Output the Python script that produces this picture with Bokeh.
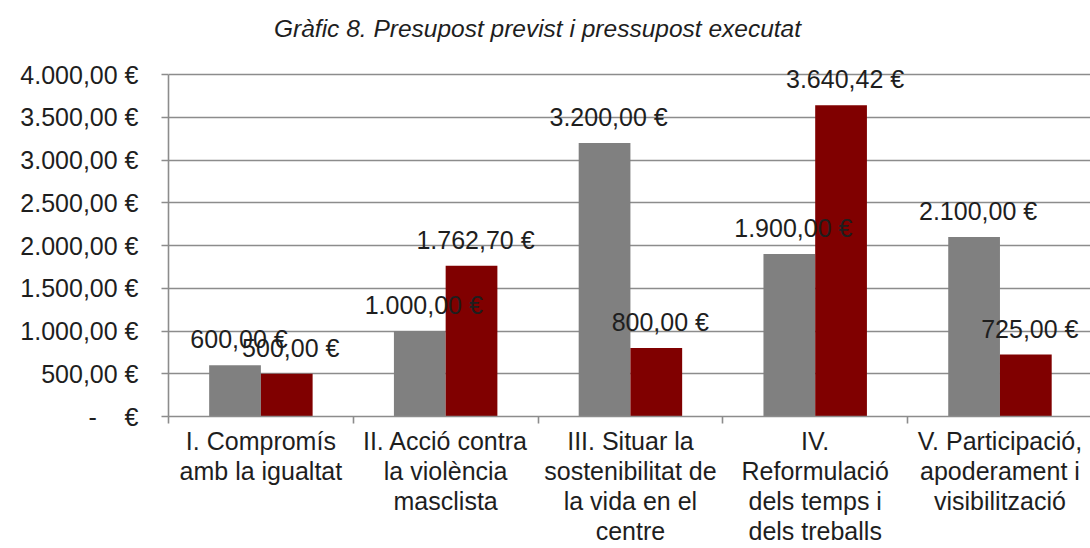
import numpy as np
from bokeh.plotting import figure
from bokeh.models import Range1d, FixedTicker, ColumnDataSource
from bokeh.core.properties import value
from bokeh.embed import file_html
from bokeh.resources import INLINE

categories = [
    "I. Compromís\namb la igualtat",
    "II. Acció contra\nla violència\nmasclista",
    "III. Situar la\nsostenibilitat de\nla vida en el\ncentre",
    "IV.\nReformulació\ndels temps i\ndels treballs",
    "V. Participació,\napoderament i\nvisibilització",
]
previst = [600.00, 1000.00, 3200.00, 1900.00, 2100.00]
executat = [500.00, 1762.70, 800.00, 3640.42, 725.00]
y_ticks = [0, 500, 1000, 1500, 2000, 2500, 3000, 3500, 4000]
title_text = "Gràfic 8. Presupost previst i pressupost executat"


def eur(v):
    s = f"{v:,.2f}".replace(",", "X").replace(".", ",").replace("X", ".")
    return s + " €"


def eur_tick(v):
    if v == 0:
        return "-\u00a0\u00a0\u00a0\u00a0€"
    return eur(v)


FONT = "Liberation Sans"
TXT = "#1e1e1e"
GRID = "#8c8c8c"
FS = "25px"

n = len(categories)
centers = np.arange(n) + 0.5
bw = 0.28

# frame spans the full height above the axis; the value axis stops at 4000
W, H = 1090, 548
top_pad, bottom_pad = 0, 132
axis_top_px = 74                          # where 4000 sits from the top
frame_h = H - top_pad - bottom_pad
ymax = y_ticks[-1] * frame_h / (frame_h - axis_top_px)

p = figure(width=W, height=H, output_backend="svg", toolbar_location=None,
           x_range=Range1d(0, 4.99), y_range=Range1d(0, ymax),
           min_border_left=168, min_border_right=0, min_border_top=top_pad,
           min_border_bottom=bottom_pad)
p.outline_line_color = None
p.background_fill_color = "white"
p.border_fill_color = "white"

src_a = ColumnDataSource(dict(x=centers - bw / 2, top=previst,
                              lab=[eur(v) for v in previst]))
src_b = ColumnDataSource(dict(x=centers + bw / 2, top=executat,
                              lab=[eur(v) for v in executat]))

p.vbar(x="x", top="top", width=bw, source=src_a, fill_color="#808080", line_color=None)
p.vbar(x="x", top="top", width=bw, source=src_b, fill_color="#800000", line_color=None)

for src in (src_a, src_b):
    p.text(x="x", y="top", text="lab", source=src, text_font=value(FONT),
           text_font_size=FS, text_color=TXT, text_align="center",
           text_baseline="middle", x_offset=4, y_offset=-26)

# title
p.text(x=[0], y=[y_ticks[-1]], text=[title_text], x_offset=369, y_offset=-46,
       text_font=value(FONT), text_font_size="24.5px", text_font_style="italic",
       text_color=TXT, text_align="center", text_baseline="middle")

# grid
p.xgrid.grid_line_color = None
p.ygrid.grid_line_color = GRID
p.ygrid.grid_line_width = 1.6
p.ygrid.ticker = FixedTicker(ticks=y_ticks)

# y axis
ya = p.yaxis[0]
ya.ticker = FixedTicker(ticks=y_ticks)
ya.bounds = (y_ticks[0], y_ticks[-1])
ya.major_label_overrides = {t: eur_tick(t) for t in y_ticks}
ya.axis_line_color = GRID
ya.axis_line_width = 1.6
ya.major_tick_line_color = GRID
ya.major_tick_line_width = 1.6
ya.major_tick_out = 7
ya.major_tick_in = 0
ya.minor_tick_line_color = None
ya.major_label_standoff = 23
ya.major_label_text_font = FONT
ya.major_label_text_font_size = FS
ya.major_label_text_color = TXT

# x axis
xa = p.xaxis[0]
xa.ticker = FixedTicker(ticks=list(centers), minor_ticks=list(np.arange(n + 1)))
xa.major_label_overrides = {float(c): lab for c, lab in zip(centers, categories)}
xa.axis_line_color = GRID
xa.axis_line_width = 1.6
xa.major_tick_line_color = None
xa.major_tick_out = 0
xa.major_tick_in = 0
xa.minor_tick_line_color = GRID
xa.minor_tick_line_width = 1.6
xa.minor_tick_out = 7
xa.minor_tick_in = 0
xa.major_label_standoff = 3
xa.major_label_text_font = FONT
xa.major_label_text_font_size = FS
xa.major_label_text_color = TXT
xa.major_label_text_align = "center"
xa.major_label_text_line_height = 1.08

open("out.html", "w").write(file_html(p, INLINE))
